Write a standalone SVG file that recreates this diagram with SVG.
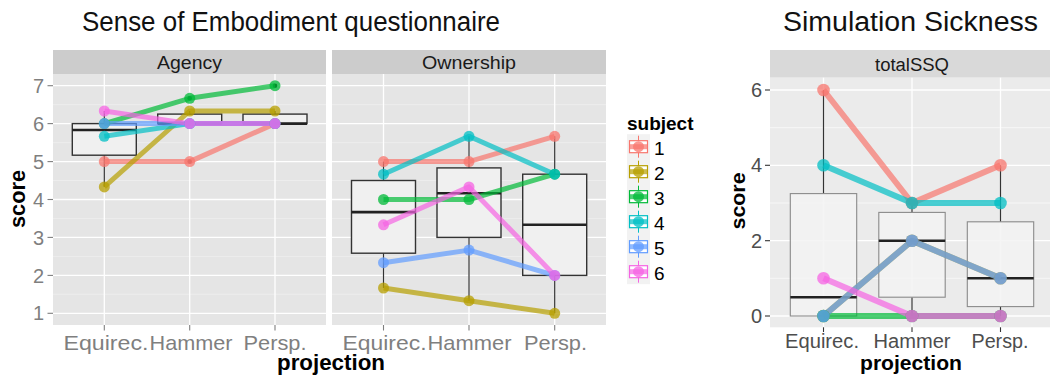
<svg xmlns="http://www.w3.org/2000/svg" width="1050" height="378" viewBox="0 0 1050 378">
<style>
.title{font-family:"Liberation Sans",Arial,sans-serif;font-size:27px;fill:#111}
.strip{font-family:"Liberation Sans",Arial,sans-serif;font-size:18px;fill:#1a1a1a;text-anchor:middle}
.ytl{font-family:"Liberation Sans",Arial,sans-serif;font-size:20px;fill:#7f7f7f;text-anchor:end}
.xtl{font-family:"Liberation Sans",Arial,sans-serif;font-size:21px;fill:#7f7f7f;text-anchor:middle}
.ytr{font-family:"Liberation Sans",Arial,sans-serif;font-size:20px;fill:#4d4d4d;text-anchor:end}
.xtr{font-family:"Liberation Sans",Arial,sans-serif;font-size:19.5px;fill:#4d4d4d;text-anchor:middle}
.axt{font-family:"Liberation Sans",Arial,sans-serif;font-weight:bold;fill:#000;text-anchor:middle}
.leg{font-family:"Liberation Sans",Arial,sans-serif;font-size:19px;fill:#000}
.gmaj{stroke:#fff;stroke-width:1.3;fill:none}
.gmin{stroke:#f2f2f2;stroke-width:0.6;fill:none}
.gminr{stroke:#fff;stroke-width:0.6;fill:none}
.tick{stroke:#7f7f7f;stroke-width:1.1}
.tickr{stroke:#333;stroke-width:1.1}
.box{fill:#f0f0f0;stroke:#333;stroke-width:1.4}
.med{stroke:#222;stroke-width:2.6}
.wh{stroke:#333;stroke-width:1.2}
.boxr{fill:#f3f3f3;fill-opacity:0.85;stroke:#8a8a8a;stroke-width:1.1}
.ln{fill:none;stroke-width:5;stroke-opacity:0.7;stroke-linejoin:round}
.lnr{fill:none;stroke-width:6;stroke-opacity:0.7;stroke-linejoin:round}
.pt circle{fill-opacity:0.75;stroke:none}
.s1{stroke:#F8766D}.s2{stroke:#B79F00}.s3{stroke:#00BA38}.s4{stroke:#00BFC4}.s5{stroke:#619CFF}.s6{stroke:#F564E3}
.f1{fill:#F8766D}.f2{fill:#B79F00}.f3{fill:#00BA38}.f4{fill:#00BFC4}.f5{fill:#619CFF}.f6{fill:#F564E3}
.kv{stroke-width:1}
.kb{fill:#fff;stroke-width:1.2}
.kh{stroke-width:5;stroke-opacity:0.7}
.kp{fill-opacity:0.75;stroke:none}
</style>

<text class="title" x="82" y="31" textLength="418" lengthAdjust="spacingAndGlyphs">Sense of Embodiment questionnaire</text>
<text class="title" x="783" y="31" textLength="255" lengthAdjust="spacingAndGlyphs">Simulation Sickness</text>

<!-- Agency panel -->
<g id="panel-agency">
<rect x="53" y="50" width="273" height="24" fill="#cccccc"/>
<text class="strip" x="189.5" y="68.5" textLength="65" lengthAdjust="spacingAndGlyphs">Agency</text>
<rect x="53" y="74" width="273" height="251" fill="#e5e5e5"/>
<g class="gmin">
<line x1="53" x2="326" y1="104.6" y2="104.6"/><line x1="53" x2="326" y1="142.6" y2="142.6"/><line x1="53" x2="326" y1="180.5" y2="180.5"/><line x1="53" x2="326" y1="218.4" y2="218.4"/><line x1="53" x2="326" y1="256.4" y2="256.4"/><line x1="53" x2="326" y1="294.3" y2="294.3"/>
</g>
<g class="gmaj">
<line x1="53" x2="326" y1="85.7" y2="85.7"/><line x1="53" x2="326" y1="123.6" y2="123.6"/><line x1="53" x2="326" y1="161.6" y2="161.6"/><line x1="53" x2="326" y1="199.5" y2="199.5"/><line x1="53" x2="326" y1="237.4" y2="237.4"/><line x1="53" x2="326" y1="275.4" y2="275.4"/><line x1="53" x2="326" y1="313.3" y2="313.3"/>
<line x1="104.3" x2="104.3" y1="74" y2="325"/><line x1="189.7" x2="189.7" y1="74" y2="325"/><line x1="275" x2="275" y1="74" y2="325"/>
</g>
<g id="agency-boxes">
<line class="wh" x1="104.3" x2="104.3" y1="111" y2="123.6"/><line class="wh" x1="104.3" x2="104.3" y1="155.2" y2="186.9"/>
<rect class="box" x="72.3" y="123.6" width="64" height="31.6"/><line class="med" x1="72.3" x2="136.3" y1="130" y2="130"/>
<line class="wh" x1="189.7" x2="189.7" y1="111" y2="114.1"/>
<rect class="box" x="157.7" y="114.1" width="64" height="9.5"/><line class="med" x1="157.7" x2="221.7" y1="123.6" y2="123.6"/>
<line class="wh" x1="275" x2="275" y1="111" y2="114.1"/>
<rect class="box" x="243" y="114.1" width="64" height="9.5"/><line class="med" x1="243" x2="307" y1="123.6" y2="123.6"/>
<circle cx="189.7" cy="161.6" r="2.3" fill="#111"/><circle cx="189.7" cy="98.3" r="2.3" fill="#111"/><circle cx="275" cy="85.7" r="2.3" fill="#111"/>
</g>
<g id="agency-lines">
<polyline class="ln s1" points="104.3,161.6 189.7,161.6 275,123.6"/>
<polyline class="ln s2" points="104.3,186.9 189.7,111 275,111"/>
<polyline class="ln s3" points="104.3,123.6 189.7,98.3 275,85.7"/>
<polyline class="ln s4" points="104.3,136.3 189.7,123.6 275,123.6"/>
<polyline class="ln s5" points="104.3,123.6 189.7,123.6 275,123.6"/>
<polyline class="ln s6" points="104.3,111 189.7,123.6 275,123.6"/>
</g>
<g id="agency-points" class="pt">
<circle class="f1" cx="104.3" cy="161.6" r="5.5"/><circle class="f1" cx="189.7" cy="161.6" r="5.5"/><circle class="f1" cx="275" cy="123.6" r="5.5"/>
<circle class="f2" cx="104.3" cy="186.9" r="5.5"/><circle class="f2" cx="189.7" cy="111" r="5.5"/><circle class="f2" cx="275" cy="111" r="5.5"/>
<circle class="f3" cx="104.3" cy="123.6" r="5.5"/><circle class="f3" cx="189.7" cy="98.3" r="5.5"/><circle class="f3" cx="275" cy="85.7" r="5.5"/>
<circle class="f4" cx="104.3" cy="136.3" r="5.5"/><circle class="f4" cx="189.7" cy="123.6" r="5.5"/><circle class="f4" cx="275" cy="123.6" r="5.5"/>
<circle class="f5" cx="104.3" cy="123.6" r="5.5"/><circle class="f5" cx="189.7" cy="123.6" r="5.5"/><circle class="f5" cx="275" cy="123.6" r="5.5"/>
<circle class="f6" cx="104.3" cy="111" r="5.5"/><circle class="f6" cx="189.7" cy="123.6" r="5.5"/><circle class="f6" cx="275" cy="123.6" r="5.5"/>
</g>
<g class="tick">
<line x1="47.5" x2="53" y1="85.7" y2="85.7"/><line x1="47.5" x2="53" y1="123.6" y2="123.6"/><line x1="47.5" x2="53" y1="161.6" y2="161.6"/><line x1="47.5" x2="53" y1="199.5" y2="199.5"/><line x1="47.5" x2="53" y1="237.4" y2="237.4"/><line x1="47.5" x2="53" y1="275.4" y2="275.4"/><line x1="47.5" x2="53" y1="313.3" y2="313.3"/>
<line x1="104.3" x2="104.3" y1="325" y2="330.5"/><line x1="189.7" x2="189.7" y1="325" y2="330.5"/><line x1="275" x2="275" y1="325" y2="330.5"/>
</g>
<text class="ytl" x="44" y="92.8">7</text><text class="ytl" x="44" y="130.7">6</text><text class="ytl" x="44" y="168.7">5</text><text class="ytl" x="44" y="206.6">4</text><text class="ytl" x="44" y="244.5">3</text><text class="ytl" x="44" y="282.5">2</text><text class="ytl" x="44" y="320.4">1</text>
<text class="xtl" x="106" y="350" textLength="85" lengthAdjust="spacingAndGlyphs">Equirec.</text>
<text class="xtl" x="191" y="350" textLength="83" lengthAdjust="spacingAndGlyphs">Hammer</text>
<text class="xtl" x="275" y="350" textLength="63" lengthAdjust="spacingAndGlyphs">Persp.</text>
</g>

<!-- Ownership panel -->
<g id="panel-ownership">
<rect x="332" y="50" width="274" height="24" fill="#cccccc"/>
<text class="strip" x="469" y="68.5" textLength="94" lengthAdjust="spacingAndGlyphs">Ownership</text>
<rect x="332" y="74" width="274" height="251" fill="#e5e5e5"/>
<g class="gmin">
<line x1="332" x2="606" y1="104.6" y2="104.6"/><line x1="332" x2="606" y1="142.6" y2="142.6"/><line x1="332" x2="606" y1="180.5" y2="180.5"/><line x1="332" x2="606" y1="218.4" y2="218.4"/><line x1="332" x2="606" y1="256.4" y2="256.4"/><line x1="332" x2="606" y1="294.3" y2="294.3"/>
</g>
<g class="gmaj">
<line x1="332" x2="606" y1="85.7" y2="85.7"/><line x1="332" x2="606" y1="123.6" y2="123.6"/><line x1="332" x2="606" y1="161.6" y2="161.6"/><line x1="332" x2="606" y1="199.5" y2="199.5"/><line x1="332" x2="606" y1="237.4" y2="237.4"/><line x1="332" x2="606" y1="275.4" y2="275.4"/><line x1="332" x2="606" y1="313.3" y2="313.3"/>
<line x1="383.5" x2="383.5" y1="74" y2="325"/><line x1="469" x2="469" y1="74" y2="325"/><line x1="554.7" x2="554.7" y1="74" y2="325"/>
</g>
<g id="ownership-boxes">
<line class="wh" x1="383.5" x2="383.5" y1="161.6" y2="180.5"/><line class="wh" x1="383.5" x2="383.5" y1="253.2" y2="288"/>
<rect class="box" x="351.5" y="180.5" width="64" height="72.7"/><line class="med" x1="351.5" x2="415.5" y1="212.1" y2="212.1"/>
<line class="wh" x1="469" x2="469" y1="136.3" y2="167.9"/><line class="wh" x1="469" x2="469" y1="237.4" y2="300.7"/>
<rect class="box" x="437" y="167.9" width="64" height="69.5"/><line class="med" x1="437" x2="501" y1="193.2" y2="193.2"/>
<line class="wh" x1="554.7" x2="554.7" y1="136.3" y2="174.2"/><line class="wh" x1="554.7" x2="554.7" y1="275.4" y2="313.3"/>
<rect class="box" x="522.7" y="174.2" width="64" height="101.2"/><line class="med" x1="522.7" x2="586.7" y1="224.8" y2="224.8"/>
</g>
<g id="ownership-lines">
<polyline class="ln s1" points="383.5,161.6 469,161.6 554.7,136.3"/>
<polyline class="ln s2" points="383.5,288 469,300.7 554.7,313.3"/>
<polyline class="ln s3" points="383.5,199.5 469,199.5 554.7,174.2"/>
<polyline class="ln s4" points="383.5,174.2 469,136.3 554.7,174.2"/>
<polyline class="ln s5" points="383.5,262.7 469,250.1 554.7,275.4"/>
<polyline class="ln s6" points="383.5,224.8 469,186.9 554.7,275.4"/>
</g>
<g id="ownership-points" class="pt">
<circle class="f1" cx="383.5" cy="161.6" r="5.5"/><circle class="f1" cx="469" cy="161.6" r="5.5"/><circle class="f1" cx="554.7" cy="136.3" r="5.5"/>
<circle class="f2" cx="383.5" cy="288" r="5.5"/><circle class="f2" cx="469" cy="300.7" r="5.5"/><circle class="f2" cx="554.7" cy="313.3" r="5.5"/>
<circle class="f3" cx="383.5" cy="199.5" r="5.5"/><circle class="f3" cx="469" cy="199.5" r="5.5"/><circle class="f3" cx="554.7" cy="174.2" r="5.5"/>
<circle class="f4" cx="383.5" cy="174.2" r="5.5"/><circle class="f4" cx="469" cy="136.3" r="5.5"/><circle class="f4" cx="554.7" cy="174.2" r="5.5"/>
<circle class="f5" cx="383.5" cy="262.7" r="5.5"/><circle class="f5" cx="469" cy="250.1" r="5.5"/><circle class="f5" cx="554.7" cy="275.4" r="5.5"/>
<circle class="f6" cx="383.5" cy="224.8" r="5.5"/><circle class="f6" cx="469" cy="186.9" r="5.5"/><circle class="f6" cx="554.7" cy="275.4" r="5.5"/>
</g>
<g class="tick">
<line x1="383.5" x2="383.5" y1="325" y2="330.5"/><line x1="469" x2="469" y1="325" y2="330.5"/><line x1="554.7" x2="554.7" y1="325" y2="330.5"/>
</g>
<text class="xtl" x="384.5" y="350" textLength="84" lengthAdjust="spacingAndGlyphs">Equirec.</text>
<text class="xtl" x="469.5" y="350" textLength="84" lengthAdjust="spacingAndGlyphs">Hammer</text>
<text class="xtl" x="555.5" y="350" textLength="63" lengthAdjust="spacingAndGlyphs">Persp.</text>
</g>

<text class="axt" font-size="22" transform="translate(25,199) rotate(-90)" textLength="58" lengthAdjust="spacingAndGlyphs">score</text>
<text class="axt" font-size="22" x="331" y="370" textLength="108" lengthAdjust="spacingAndGlyphs">projection</text>

<!-- Legend -->
<g id="legend">
<text class="leg" font-weight="bold" x="627" y="130">subject</text>
<rect x="627" y="134.2" width="23" height="150" fill="#f2f2f2"/>
<g id="key1" transform="translate(638.5,146.7)"><line class="kv s1" x1="0" x2="0" y1="-11" y2="11"/><rect class="kb s1" x="-9" y="-6" width="18" height="12"/><line class="kh s1" x1="-9" x2="9" y1="0" y2="0"/><circle class="kp f1" r="5.5"/></g>
<g id="key2" transform="translate(638.5,171.7)"><line class="kv s2" x1="0" x2="0" y1="-11" y2="11"/><rect class="kb s2" x="-9" y="-6" width="18" height="12"/><line class="kh s2" x1="-9" x2="9" y1="0" y2="0"/><circle class="kp f2" r="5.5"/></g>
<g id="key3" transform="translate(638.5,196.7)"><line class="kv s3" x1="0" x2="0" y1="-11" y2="11"/><rect class="kb s3" x="-9" y="-6" width="18" height="12"/><line class="kh s3" x1="-9" x2="9" y1="0" y2="0"/><circle class="kp f3" r="5.5"/></g>
<g id="key4" transform="translate(638.5,221.7)"><line class="kv s4" x1="0" x2="0" y1="-11" y2="11"/><rect class="kb s4" x="-9" y="-6" width="18" height="12"/><line class="kh s4" x1="-9" x2="9" y1="0" y2="0"/><circle class="kp f4" r="5.5"/></g>
<g id="key5" transform="translate(638.5,246.7)"><line class="kv s5" x1="0" x2="0" y1="-11" y2="11"/><rect class="kb s5" x="-9" y="-6" width="18" height="12"/><line class="kh s5" x1="-9" x2="9" y1="0" y2="0"/><circle class="kp f5" r="5.5"/></g>
<g id="key6" transform="translate(638.5,271.7)"><line class="kv s6" x1="0" x2="0" y1="-11" y2="11"/><rect class="kb s6" x="-9" y="-6" width="18" height="12"/><line class="kh s6" x1="-9" x2="9" y1="0" y2="0"/><circle class="kp f6" r="5.5"/></g>
<text class="leg" x="654" y="155">1</text><text class="leg" x="654" y="180">2</text><text class="leg" x="654" y="205">3</text><text class="leg" x="654" y="230">4</text><text class="leg" x="654" y="255">5</text><text class="leg" x="654" y="280">6</text>
</g>

<!-- totalSSQ panel -->
<g id="panel-totalssq">
<rect x="770" y="50" width="280" height="27.7" fill="#d9d9d9"/>
<text class="strip" x="912" y="70.5" font-size="18.5" textLength="74" lengthAdjust="spacingAndGlyphs">totalSSQ</text>
<rect x="770" y="77.7" width="280" height="249.6" fill="#ebebeb"/>
<g class="gminr">
<line x1="770" x2="1050" y1="127.7" y2="127.7"/><line x1="770" x2="1050" y1="203" y2="203"/><line x1="770" x2="1050" y1="278.3" y2="278.3"/>
</g>
<g class="gmaj">
<line x1="770" x2="1050" y1="90" y2="90"/><line x1="770" x2="1050" y1="165.3" y2="165.3"/><line x1="770" x2="1050" y1="240.7" y2="240.7"/><line x1="770" x2="1050" y1="316" y2="316"/>
<line x1="823.5" x2="823.5" y1="77.7" y2="327.3"/><line x1="912" x2="912" y1="77.7" y2="327.3"/><line x1="1000.5" x2="1000.5" y1="77.7" y2="327.3"/>
</g>
<g id="ssq-boxes">
<line class="wh" x1="823.5" x2="823.5" y1="90" y2="193.6"/>
<rect class="boxr" x="790.3" y="193.6" width="66.4" height="122.4"/><line class="med" x1="790.3" x2="856.7" y1="297.2" y2="297.2"/>
<line class="wh" x1="912" x2="912" y1="203" y2="212.4"/><line class="wh" x1="912" x2="912" y1="297.2" y2="316"/>
<rect class="boxr" x="878.8" y="212.4" width="66.4" height="84.8"/><line class="med" x1="878.8" x2="945.2" y1="240.7" y2="240.7"/>
<line class="wh" x1="1000.5" x2="1000.5" y1="165.3" y2="221.8"/><line class="wh" x1="1000.5" x2="1000.5" y1="306.6" y2="316"/>
<rect class="boxr" x="967.3" y="221.8" width="66.4" height="84.8"/><line class="med" x1="967.3" x2="1033.7" y1="278.3" y2="278.3"/>
</g>
<g id="ssq-lines">
<polyline class="lnr s1" points="823.5,90 912,203 1000.5,165.3"/>
<polyline class="lnr s2" points="823.5,316 912,240.7 1000.5,278.3"/>
<polyline class="lnr s3" points="823.5,316 912,316 1000.5,316"/>
<polyline class="lnr s4" points="823.5,165.3 912,203 1000.5,203"/>
<polyline class="lnr s5" points="823.5,316 912,240.7 1000.5,278.3"/>
<polyline class="lnr s6" points="823.5,278.3 912,316 1000.5,316"/>
</g>
<g id="ssq-points" class="pt">
<circle class="f1" cx="823.5" cy="90" r="6.3"/><circle class="f1" cx="912" cy="203" r="6.3"/><circle class="f1" cx="1000.5" cy="165.3" r="6.3"/>
<circle class="f2" cx="823.5" cy="316" r="6.3"/><circle class="f2" cx="912" cy="240.7" r="6.3"/><circle class="f2" cx="1000.5" cy="278.3" r="6.3"/>
<circle class="f3" cx="823.5" cy="316" r="6.3"/><circle class="f3" cx="912" cy="316" r="6.3"/><circle class="f3" cx="1000.5" cy="316" r="6.3"/>
<circle class="f4" cx="823.5" cy="165.3" r="6.3"/><circle class="f4" cx="912" cy="203" r="6.3"/><circle class="f4" cx="1000.5" cy="203" r="6.3"/>
<circle class="f5" cx="823.5" cy="316" r="6.3"/><circle class="f5" cx="912" cy="240.7" r="6.3"/><circle class="f5" cx="1000.5" cy="278.3" r="6.3"/>
<circle class="f6" cx="823.5" cy="278.3" r="6.3"/><circle class="f6" cx="912" cy="316" r="6.3"/><circle class="f6" cx="1000.5" cy="316" r="6.3"/>
</g>
<g class="tickr">
<line x1="765" x2="770" y1="90" y2="90"/><line x1="765" x2="770" y1="165.3" y2="165.3"/><line x1="765" x2="770" y1="240.7" y2="240.7"/><line x1="765" x2="770" y1="316" y2="316"/>
<line x1="823.5" x2="823.5" y1="327.3" y2="332"/><line x1="912" x2="912" y1="327.3" y2="332"/><line x1="1000.5" x2="1000.5" y1="327.3" y2="332"/>
</g>
<text class="ytr" x="762" y="97">6</text><text class="ytr" x="762" y="172.3">4</text><text class="ytr" x="762" y="247.7">2</text><text class="ytr" x="762" y="323">0</text>
<text class="xtr" x="822" y="348" textLength="74" lengthAdjust="spacingAndGlyphs">Equirec.</text>
<text class="xtr" x="912" y="348" textLength="77" lengthAdjust="spacingAndGlyphs">Hammer</text>
<text class="xtr" x="1000" y="348" textLength="57" lengthAdjust="spacingAndGlyphs">Persp.</text>
<text class="axt" font-size="21" transform="translate(745,201) rotate(-90)" textLength="57" lengthAdjust="spacingAndGlyphs">score</text>
<text class="axt" font-size="21" x="911" y="369.5" textLength="102" lengthAdjust="spacingAndGlyphs">projection</text>
</g>
</svg>
